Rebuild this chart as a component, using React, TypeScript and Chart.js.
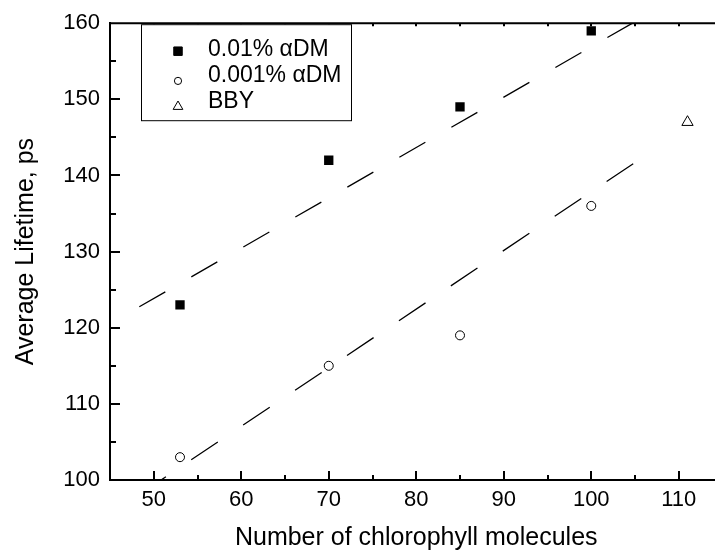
import React, { useEffect, useRef } from 'react';
import { Chart, registerables } from 'chart.js';
import { drawPoint } from 'chart.js/helpers';

Chart.register(...registerables);

// ---- data ----
const seriesLabels = ['0.01% αDM', '0.001% αDM', 'BBY'];
const dmHighX = [53, 70, 85, 100];
const dmHighY = [123, 142, 149, 159];
const dmLowX = [53, 70, 85, 100];
const dmLowY = [103, 115, 119, 136];
const bbyX = [111];
const bbyY = [147];
const fitUpperX = [48.35, 105];
const fitUpperY = [122.75, 160.2];
const fitLowerX = [48.35, 105];
const fitLowerY = [98.08, 141.7];
const xMin = 45;
const xMax = 115;
const yMin = 100;
const yMax = 160;
const tickStep = 5;
const labelStep = 10;
const xTitle = 'Number of chlorophyll molecules';
const yTitle = 'Average Lifetime, ps';

const FONT = '"Liberation Sans", Arial, sans-serif';

const pts = (xs: number[], ys: number[]) => xs.map((x, i) => ({ x, y: ys[i] }));

export default function App() {
  const ref = useRef<HTMLCanvasElement>(null);

  useEffect(() => {
    const canvas = ref.current!;

    const framePlugin = {
      id: 'frame',
      afterDraw(chart: any) {
        const { ctx, chartArea: a, scales } = chart;
        const xs = scales.x;
        const ys = scales.y;
        ctx.save();
        ctx.strokeStyle = '#000';
        ctx.lineWidth = 2;
        ctx.beginPath();
        xs.ticks.forEach((t: any) => {
          if (t.value <= xMin || t.value >= xMax) return;
          const px = Math.round(xs.getPixelForValue(t.value));
          const len = t.value % labelStep === 0 ? 9 : 5;
          ctx.moveTo(px, a.bottom);
          ctx.lineTo(px, a.bottom - len);
          ctx.moveTo(px, a.top);
          ctx.lineTo(px, a.top + 3);
        });
        ys.ticks.forEach((t: any) => {
          if (t.value <= yMin || t.value >= yMax) return;
          const py = Math.round(ys.getPixelForValue(t.value));
          const len = t.value % labelStep === 0 ? 10 : 6;
          ctx.moveTo(a.left, py);
          ctx.lineTo(a.left + len, py);
        });
        ctx.stroke();
        ctx.beginPath();
        ctx.moveTo(a.left - 1, a.top);
        ctx.lineTo(a.right + 1, a.top);
        ctx.moveTo(a.right, a.top);
        ctx.lineTo(a.right, a.bottom);
        ctx.stroke();
        ctx.restore();
      },
    };

    const legendPlugin = {
      id: 'boxLegend',
      afterDraw(chart: any) {
        const { ctx, chartArea: a } = chart;
        const left = a.left + 31;
        const top = a.top + 1;
        const w = 210;
        const h = 96;
        ctx.save();
        ctx.fillStyle = '#fff';
        ctx.fillRect(left, top, w, h);
        ctx.strokeStyle = '#000';
        ctx.lineWidth = 1;
        ctx.strokeRect(left + 0.5, top + 0.5, w, h);
        const sizes = [6, 3.6, 5.6];
        const offs = [1.5, 5, 4.5];
        seriesLabels.forEach((label, i) => {
          const ds = chart.data.datasets[i];
          const ty = top + 25.5 + i * 26.2;
          ctx.fillStyle = ds.backgroundColor;
          ctx.strokeStyle = ds.borderColor;
          ctx.lineWidth = 1;
          drawPoint(ctx, { pointStyle: ds.pointStyle, radius: sizes[i], rotation: 0, borderWidth: 1 } as any, left + 37, ty + offs[i]);
          ctx.fillStyle = '#000';
          ctx.font = `23px ${FONT}`;
          ctx.textBaseline = 'middle';
          ctx.textAlign = 'left';
          ctx.fillText(label, left + 67, ty);
        });
        ctx.restore();
      },
    };

    const chart = new Chart(canvas, {
      type: 'scatter',
      data: {
        datasets: [
          {
            label: seriesLabels[0],
            data: pts(dmHighX, dmHighY),
            pointStyle: 'rect',
            pointRadius: 6.6,
            backgroundColor: '#000',
            borderColor: '#000',
            borderWidth: 0,
          },
          {
            label: seriesLabels[1],
            data: pts(dmLowX, dmLowY),
            pointStyle: 'circle',
            pointRadius: 4.5,
            backgroundColor: '#fff',
            borderColor: '#000',
            borderWidth: 1,
          },
          {
            label: seriesLabels[2],
            data: pts(bbyX, bbyY),
            pointStyle: 'triangle',
            pointRadius: 6.5,
            backgroundColor: '#fff',
            borderColor: '#000',
            borderWidth: 1,
          },
          {
            label: 'fit upper',
            data: pts(fitUpperX, fitUpperY),
            showLine: true,
            pointRadius: 0,
            borderColor: '#000',
            borderWidth: 1.3,
            borderDash: [30, 30],
          },
          {
            label: 'fit lower',
            data: pts(fitLowerX, fitLowerY),
            showLine: true,
            pointRadius: 0,
            borderColor: '#000',
            borderWidth: 1.3,
            borderDash: [32, 30.5],
          },
        ],
      } as any,
      options: {
        animation: false,
        responsive: false,
        devicePixelRatio: 1,
        layout: { padding: { top: 23, left: 0, right: 7, bottom: 0 } },
        plugins: {
          legend: { display: false },
          tooltip: { enabled: false },
        },
        scales: {
          x: {
            type: 'linear',
            min: xMin,
            max: xMax,
            grid: { display: false, drawTicks: false },
            border: { display: true, color: '#000', width: 2 },
            ticks: {
              stepSize: tickStep,
              autoSkip: false,
              maxRotation: 0,
              padding: 7,
              color: '#000',
              font: { family: FONT, size: 22 },
              callback: (v: any) => (Number(v) % labelStep === 0 ? String(v) : ''),
            },
            title: {
              display: true,
              text: xTitle,
              color: '#000',
              font: { family: FONT, size: 25 },
              padding: { top: 0, bottom: 0 },
            },
            afterFit: (s: any) => {
              s.height = 73;
            },
          },
          y: {
            type: 'linear',
            min: yMin,
            max: yMax,
            grid: { display: false, drawTicks: false },
            border: { display: true, color: '#000', width: 2 },
            ticks: {
              stepSize: tickStep,
              autoSkip: false,
              padding: 10,
              color: '#000',
              font: { family: FONT, size: 22 },
              callback: (v: any) => (Number(v) % labelStep === 0 ? String(v) : ''),
            },
            title: {
              display: true,
              text: yTitle,
              color: '#000',
              font: { family: FONT, size: 25 },
              padding: { top: 11, bottom: 0 },
            },
            afterFit: (s: any) => {
              s.width = 110;
            },
          },
        },
      } as any,
      plugins: [framePlugin, legendPlugin],
    });

    return () => chart.destroy();
  }, []);

  return (
    <div
      style={{
        position: 'absolute',
        left: 0,
        top: 0,
        width: 715,
        height: 553,
        overflow: 'hidden',
        background: '#fff',
      }}
    >
      <canvas ref={ref} width={730} height={553} style={{ display: 'block', width: 730, height: 553 }} />
    </div>
  );
}
